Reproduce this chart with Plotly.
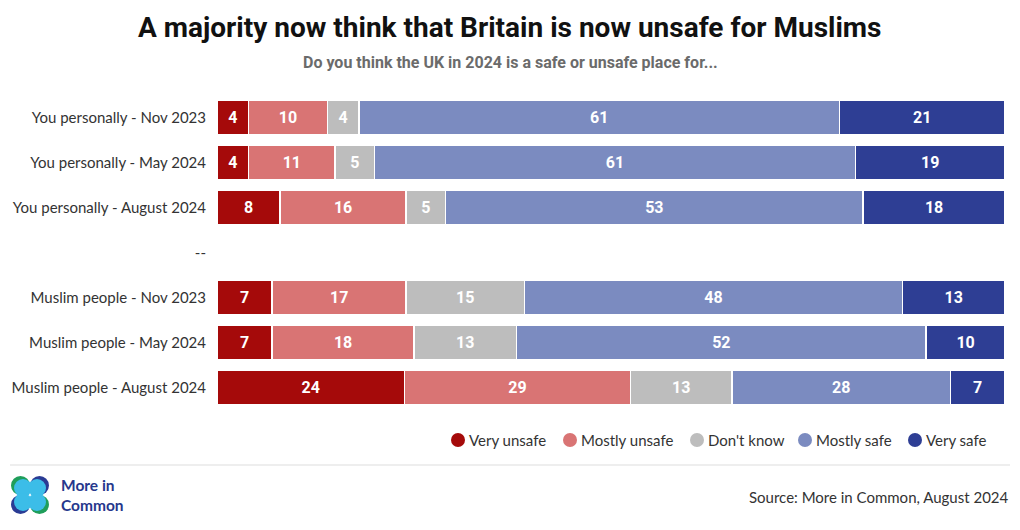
import plotly.graph_objects as go

categories = [
    "You personally - Nov 2023",
    "You personally - May 2024",
    "You personally - August 2024",
    "--",
    "Muslim people - Nov 2023",
    "Muslim people - May 2024",
    "Muslim people - August 2024",
]
series_names = ["Very unsafe", "Mostly unsafe", "Don't know", "Mostly safe", "Very safe"]
very_unsafe = [4, 4, 8, None, 7, 7, 24]
mostly_unsafe = [10, 11, 16, None, 17, 18, 29]
dont_know = [4, 5, 5, None, 15, 13, 13]
mostly_safe = [61, 61, 53, None, 48, 52, 28]
very_safe = [21, 19, 18, None, 13, 10, 7]
series_values = [very_unsafe, mostly_unsafe, dont_know, mostly_safe, very_safe]
colors = ["#a50a0a", "#d97474", "#bdbdbd", "#7b8bc0", "#2e3e94"]

W, H = 1020, 530
ML, MR, MT, MB = 217, 15, 95, 120
PW, PH = W - ML - MR, H - MT - MB

def px(x):
    return (x - ML) / PW

def py(y):
    return (H - MB - y) / PH

fig = go.Figure()
for name, vals, col in zip(series_names, series_values, colors):
    fig.add_trace(go.Bar(
        y=categories, x=vals, orientation="h", name=name,
        marker=dict(color=col, line=dict(color="white", width=1.5)),
        text=["" if v is None else str(v) for v in vals],
        textposition="inside", insidetextanchor="middle", textangle=0,
        textfont=dict(family="Roboto", size=16, color="white", weight=700),
        showlegend=False, hoverinfo="skip",
    ))

# manual legend (circle + label), placed left-to-right
legend_x_start = [451, 563, 690, 798, 908]
shapes = []
annotations = []
for name, col, lx in zip(series_names, colors, legend_x_start):
    shapes.append(dict(type="circle", xref="paper", yref="paper",
                       x0=px(lx), x1=px(lx + 14), y0=py(447), y1=py(433),
                       fillcolor=col, line_width=0))
    annotations.append(dict(text=name, xref="paper", yref="paper",
                            x=px(lx + 16), y=py(440), xanchor="left", yanchor="middle",
                            showarrow=False, font=dict(family="Lato", size=15, color="#333333")))

shapes += [
    dict(type="line", xref="paper", yref="paper", x0=px(10), x1=px(1010), y0=py(465), y1=py(465),
         line=dict(color="#dddddd", width=1)),
    # logo circles
    dict(type="circle", xref="paper", yref="paper", x0=px(11), x1=px(30), y0=py(476), y1=py(495),
         fillcolor="#1f9e5a", line_width=0),
    dict(type="circle", xref="paper", yref="paper", x0=px(30), x1=px(49), y0=py(476), y1=py(495),
         fillcolor="#2a3b94", line_width=0),
    dict(type="circle", xref="paper", yref="paper", x0=px(11), x1=px(30), y0=py(495), y1=py(514),
         fillcolor="#2a3b94", line_width=0),
    dict(type="circle", xref="paper", yref="paper", x0=px(30), x1=px(49), y0=py(495), y1=py(514),
         fillcolor="#1f9e5a", line_width=0),
    dict(type="circle", xref="paper", yref="paper", x0=px(14), x1=px(32), y0=py(479), y1=py(497),
         fillcolor="#3cbde8", line_width=0),
    dict(type="circle", xref="paper", yref="paper", x0=px(28), x1=px(46), y0=py(479), y1=py(497),
         fillcolor="#3cbde8", line_width=0),
    dict(type="circle", xref="paper", yref="paper", x0=px(14), x1=px(32), y0=py(493), y1=py(511),
         fillcolor="#3cbde8", line_width=0),
    dict(type="circle", xref="paper", yref="paper", x0=px(28), x1=px(46), y0=py(493), y1=py(511),
         fillcolor="#3cbde8", line_width=0),
]

annotations += [
    dict(text="<b>A majority now think that Britain is now unsafe for Muslims</b>",
         xref="paper", yref="paper", x=px(510), y=py(27), xanchor="center", yanchor="middle",
         showarrow=False, font=dict(family="Roboto", size=28, color="#111111")),
    dict(text="<b>Do you think the UK in 2024 is a safe or unsafe place for...</b>",
         xref="paper", yref="paper", x=px(510), y=py(63), xanchor="center", yanchor="middle",
         showarrow=False, font=dict(family="Roboto", size=16, color="#6b6b6b")),
    dict(text="<b>More in<br>Common</b>",
         xref="paper", yref="paper", x=px(59), y=py(495), xanchor="left", yanchor="middle",
         showarrow=False, align="left", font=dict(family="Lato", size=15.5, color="#26378c")),
    dict(text="Source: More in Common, August 2024",
         xref="paper", yref="paper", x=px(1011), y=py(497), xanchor="right", yanchor="middle",
         showarrow=False, font=dict(family="Lato", size=15, color="#333333")),
]

fig.update_layout(
    width=W, height=H,
    barmode="stack", barnorm="percent", bargap=0.24,
    margin=dict(l=ML, r=MR, t=MT, b=MB),
    plot_bgcolor="white", paper_bgcolor="white",
    font=dict(family="Lato", color="#333333"),
    showlegend=False,
    xaxis=dict(visible=False, range=[0, 100], fixedrange=True),
    yaxis=dict(categoryorder="array", categoryarray=categories, autorange="reversed",
               showgrid=False, zeroline=False, showline=False, ticks="",
               ticklabelstandoff=10, tickfont=dict(family="Lato", size=15, color="#333333")),
    shapes=shapes,
    annotations=annotations,
)

fig.write_html("out.html")
